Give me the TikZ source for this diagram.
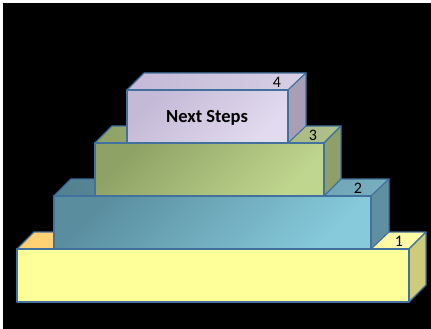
\documentclass[tikz,border=0pt]{standalone}
\usepackage{fontspec}
\setmainfont{Carlito}
\definecolor{boxline}{HTML}{41719C}
\definecolor{yelfront}{HTML}{FFFF99}
\definecolor{yeltopa}{HTML}{FFCF70}
\definecolor{yeltopb}{HTML}{FFFFA8}
\definecolor{yelside}{HTML}{CCCC7A}
\definecolor{bluea}{HTML}{5A8E9F}
\definecolor{blueb}{HTML}{86CADB}
\definecolor{bluetop}{HTML}{79AFC0}
\definecolor{blueside}{HTML}{5F8FA0}
\definecolor{greena}{HTML}{8EA265}
\definecolor{greenb}{HTML}{BFD68E}
\definecolor{greentop}{HTML}{B0C28A}
\definecolor{greenside}{HTML}{8E9F6A}
\definecolor{lava}{HTML}{C4B9D7}
\definecolor{lavb}{HTML}{E2DBEE}
\definecolor{lavtop}{HTML}{D6CFE4}
\definecolor{lavside}{HTML}{A89FB7}
\begin{document}
\begin{tikzpicture}[x=1pt,y=-1pt,
  face/.style={draw=boxline, line width=1.1pt, line join=round},
  num/.style={font=\fontsize{16}{16}\selectfont, inner sep=0pt}]
% background
\fill[white] (0,0) rectangle (431,329);
\fill[black] (3,3) rectangle (431,329);
\useasboundingbox (0,0) rectangle (431,329);

% step 1
\path[face, left color=yeltopa, right color=yeltopb] (17,249) -- (34,232) -- (426,232) -- (409,249) -- cycle;
\path[face, fill=yelside] (409,249) -- (426,232) -- (426,285) -- (409,302) -- cycle;
\path[face, fill=yelfront] (17,249) rectangle (409,302);

% step 2
\path[face, left color=bluea!90!black, right color=bluetop] (54,196) -- (71,179) -- (389,179) -- (371,196) -- cycle;
\path[face, fill=blueside] (371,196) -- (389,179) -- (389,232) -- (371,249) -- cycle;
\path[face, top color=bluea, bottom color=blueb, shading angle=45] (54,196) rectangle (371,249);

% step 3
\path[face, left color=greena, right color=greentop] (95,143) -- (112,126) -- (341,126) -- (324,143) -- cycle;
\path[face, fill=greenside] (324,143) -- (341,126) -- (341,179) -- (324,196) -- cycle;
\path[face, top color=greena, bottom color=greenb, shading angle=45] (95,143) rectangle (324,196);

% step 4
\path[face, left color=lava, right color=lavtop] (127,90) -- (144,73) -- (306,73) -- (288,90) -- cycle;
\path[face, fill=lavside] (288,90) -- (306,73) -- (306,126) -- (288,143) -- cycle;
\path[face, top color=lava, bottom color=lavb, shading angle=45] (127,90) rectangle (288,143);

% labels
\node[num] (one) at (399,241) {1};
\node[num] (two) at (358,188) {2};
\node[num] (three) at (313,135) {3};
\node[num] (four) at (277,82) {4};
\node[font=\fontsize{18.5}{20}\selectfont\bfseries] (steps) at (207,118) {Next Steps};

\end{tikzpicture}
\end{document}
